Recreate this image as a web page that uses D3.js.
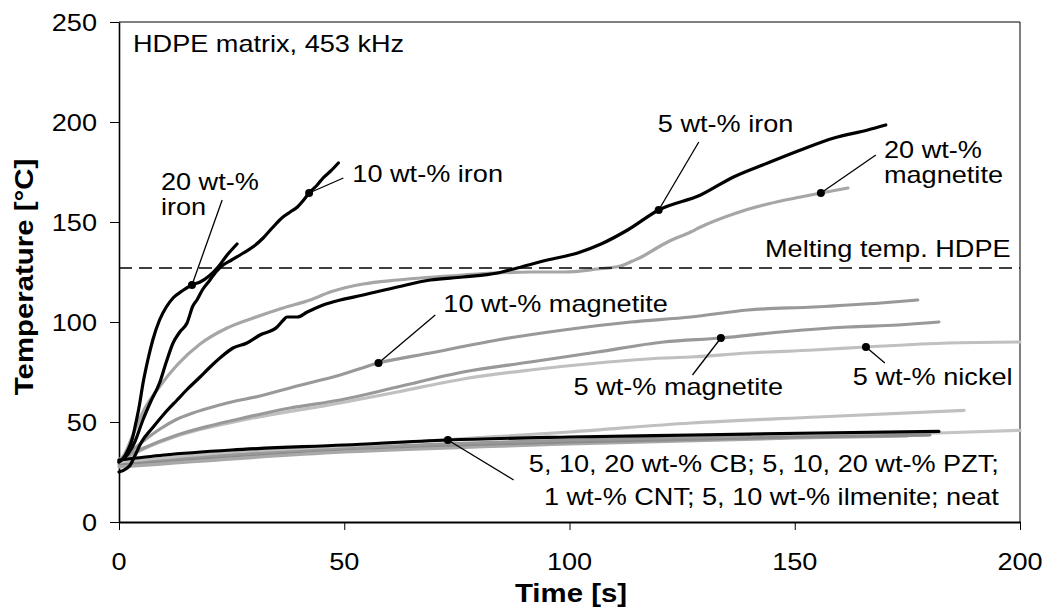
<!DOCTYPE html>
<html><head><meta charset="utf-8">
<script src="https://cdn.jsdelivr.net/npm/d3@7"></script>
<style>body{margin:0;background:#fff}svg{display:block}text{font-family:"Liberation Sans",Arial,sans-serif;fill:#000}</style>
</head><body><svg id="c" width="1045" height="611"></svg>
<script>
// ---- data (time [s], temperature [°C]) ----
const xTicks = [0, 50, 100, 150, 200];
const yTicks = [0, 50, 100, 150, 200, 250];
const meltingTemp = 127;

const iron20 = [[0,30],[1,32],[2,36],[3,42],[3.5,47],[4.5,58],[5.3,69],[6.5,82],[7.5,91],[9,101],[10.5,107.5],[12,112],[14,115.5],[16.2,118.5],[18,120],[20,123],[22,127.5],[24,133.5],[26.2,139]];
const iron10 = [[0,30],[2,34],[3.5,40],[5.3,51],[7,60],[9,69.5],[10.5,80],[12,89.5],[13.5,95],[15.1,99.5],[16.4,108],[17.3,111],[18.5,116],[20.2,121],[21.5,125],[23.1,128.5],[25,131],[27.6,134.5],[30,138],[32,142],[34,147],[36.4,152.5],[38,155],[39.6,157.5],[41,161],[42.4,165],[44,168.5],[45.3,172],[47,175.5],[48.7,179.5]];
const iron5 = [[0,25],[1.5,26.5],[2.5,28.5],[3.5,33],[5,40],[7.6,47.5],[10,54],[12.9,61],[15,66],[18,72.5],[20,77],[22.4,82],[25.3,87],[28.4,89.5],[31.3,93.5],[35.1,97.5],[36.5,101],[37.3,102.5],[39.6,102.5],[41.8,105],[45.3,108.5],[49.1,111],[54.2,113.5],[61.8,117.5],[69.1,121],[76.4,122.5],[84,124.5],[88.4,127],[95.1,131],[101.8,134.5],[107,139],[112.9,146],[119.8,156],[129.1,163.5],[136.4,172.5],[144,179.5],[151.3,186],[158.7,192],[166.2,196],[170.2,198.5]];
const magnetite20 = [[0,31],[1,33],[3,43],[5.3,55],[9.1,68],[12.9,78.5],[18,89],[24,97],[29.8,102],[36.4,107],[42.4,111],[46.9,115],[54.2,119],[61.8,121],[76.4,123.5],[91.3,125],[98.7,125],[106.2,126.5],[111.3,128],[114,130.5],[116.4,133],[119,136.5],[121.8,140],[126.9,145],[129.1,147.5],[136.4,154],[144,159],[151.3,162.5],[155.8,164.5],[161.8,167]];
const magnetite10 = [[0,31],[3,36],[6,41.5],[9.1,46.5],[12.5,51],[16.4,54.5],[20,57],[24,59.5],[31.3,63],[38.7,67.5],[49.1,73.5],[57.6,79.5],[69.1,84.5],[84,91],[98.7,96],[113.6,100],[126.9,102.5],[139.6,106],[154.2,107.5],[169.1,109.5],[177.3,111]];
const magnetite5 = [[0,31],[5,36.5],[12.9,43.5],[20,48],[27.6,52],[38,57],[49.1,61],[61.8,67.5],[76.4,75],[91.3,80],[106.2,85],[120.9,90],[133.6,92],[146.9,95],[161.8,97.5],[172.9,98.5],[182,100]];
const nickel5 = [[0,30],[5,36],[12.9,43],[27.6,51],[49.1,59.5],[61.8,65],[76.4,71.5],[91.3,76],[106.2,79.5],[120.9,82],[126.9,82.5],[139.6,84.5],[154.2,86],[165.8,87.5],[184,89.5],[200,90]];
const lowLightA = [[0,30],[25,35],[50,38],[75,41.5],[100,45],[127,49.5],[155,52.5],[187.6,55.8]];
const lowLightB = [[0,28],[50,35.5],[100,39.5],[150,43],[182,44.5],[200,45.8]];
const lowGrayC = [[0,29],[50,36.5],[100,40],[150,42.5],[180,43.5]];
const lowGrayD = [[0,27.5],[50,35],[100,39],[150,42],[175,43]];
const lowGrayE = [[0,30],[50,37],[100,41],[140,43]];
const cbBlack = [[0,31],[10,33.5],[25,36],[50,38.5],[73,41],[100,42.5],[127,43.5],[155,44.5],[182,45.3]];

const series = [
  {d: lowLightB, c: "#c4c4c4"}, {d: lowGrayD, c: "#a8a8a8"}, {d: lowGrayC, c: "#8c8c8c"},
  {d: lowGrayE, c: "#999999"}, {d: lowLightA, c: "#c0c0c0"},
  {d: nickel5, c: "#c0c0c0"}, {d: magnetite5, c: "#999999"}, {d: magnetite10, c: "#999999"},
  {d: magnetite20, c: "#a6a6a6"},
  {d: cbBlack, c: "#000"}, {d: iron5, c: "#000"}, {d: iron10, c: "#000"}, {d: iron20, c: "#000"}
];

// annotations: dot on curve (data), pointer end (data), text lines
const notes = [
  {dot:[16.2,118.5], end:[22.9,161], tx:[9.3,166], lines:["20 wt-%","iron"], anchor:"start"},
  {dot:[42.2,164.5], end:[49.8,172], tx:[51.8,170], lines:["10 wt-% iron"], anchor:"start"},
  {dot:[119.8,156], end:[128.7,190], tx:[119.6,195], lines:["5 wt-% iron"], anchor:"start"},
  {dot:[155.8,164.5], end:[168,183.5], tx:[169.8,182], lines:["20 wt-%","magnetite"], anchor:"start"},
  {dot:[57.6,79.5], end:[70.2,103.5], tx:[72,105], lines:["10 wt-% magnetite"], anchor:"start"},
  {dot:[133.6,92], end:[127.3,73.5], tx:[100.9,63.5], lines:["5 wt-% magnetite"], anchor:"start"},
  {dot:[165.8,87.5], end:[170,79.5], tx:[162.9,68.5], lines:["5 wt-% nickel"], anchor:"start"},
  {dot:[73,41], end:[87.6,21], tx:[195.3,25], lines:["5, 10, 20 wt-% CB; 5, 10, 20 wt-% PZT;","1 wt-% CNT; 5, 10 wt-% ilmenite; neat"], anchor:"end"}
];

// ---- drawing ----
const SX = 1.13;
const svg = d3.select("#c");
const x = d3.scaleLinear().domain([0,200]).range([119,1020]);
const y = d3.scaleLinear().domain([0,250]).range([522,22]);

function txt(parent, px, py, s, o = {}) {
  const g = parent.append("g").attr("transform", `translate(${px},${py})` + (o.rotate ? ` rotate(${o.rotate})` : "") + ` scale(${SX},1)`);
  g.append("text").attr("text-anchor", o.anchor || "start").attr("font-size", o.size || 24)
    .attr("font-weight", o.weight || "normal").text(s);
}

// frame
svg.append("line").attr("x1", x(0)).attr("x2", x(200)).attr("y1", y(250)).attr("y2", y(250)).attr("stroke","#000").attr("stroke-width",1);
svg.append("line").attr("x1", x(200)).attr("x2", x(200)).attr("y1", y(250)).attr("y2", y(0)).attr("stroke","#000").attr("stroke-width",1);

// axes
const ax = svg.append("g").attr("transform", `translate(0,${y(0)})`)
  .call(d3.axisBottom(x).tickValues(xTicks).tickSize(8).tickSizeOuter(0).tickFormat(""));
ax.select(".domain").attr("stroke-width", 2.2);
ax.selectAll(".tick line").attr("stroke-width", 1);
const ay = svg.append("g").attr("transform", `translate(${x(0)},0)`)
  .call(d3.axisLeft(y).tickValues(yTicks).tickSize(9).tickSizeOuter(0).tickFormat(""));
ay.select(".domain").attr("stroke-width", 1.6);
ay.selectAll(".tick line").attr("stroke-width", 1);

xTicks.forEach(t => txt(svg, x(t), 570, String(t), {anchor: "middle"}));
yTicks.forEach(t => txt(svg, 97, y(t) + 8.5, String(t), {anchor: "end"}));

txt(svg, 571, 602, "Time [s]", {anchor: "middle", weight: "bold", size: 26});
txt(svg, 33, 277, "Temperature [°C]", {anchor: "middle", weight: "bold", size: 26, rotate: -90});

// series
const line = d3.line().x(d => x(d[0])).y(d => y(d[1])).curve(d3.curveMonotoneX);
svg.append("g").selectAll("path").data(series).join("path")
  .attr("d", s => line(s.d)).attr("fill", "none").attr("stroke", s => s.c)
  .attr("stroke-width", 3.2).attr("stroke-linejoin", "round").attr("stroke-linecap", "round");

// melting line
svg.append("line").attr("x1", x(0)).attr("x2", x(200)).attr("y1", y(meltingTemp)).attr("y2", y(meltingTemp))
  .attr("stroke", "#000").attr("stroke-width", 1.6).attr("stroke-dasharray", "13,7");
txt(svg, 765, 257, "Melting temp. HDPE");
txt(svg, 133, 52, "HDPE matrix, 453 kHz");

// annotations
const an = svg.append("g");
notes.forEach(n => {
  an.append("line").attr("x1", x(n.dot[0])).attr("y1", y(n.dot[1])).attr("x2", x(n.end[0])).attr("y2", y(n.end[1]))
    .attr("stroke", "#000").attr("stroke-width", 1.3);
  an.append("circle").attr("cx", x(n.dot[0])).attr("cy", y(n.dot[1])).attr("r", 4).attr("fill", "#000");
  n.lines.forEach((s, i) => txt(an, x(n.tx[0]), y(n.tx[1]) + i * 33 * (n.lines.length > 1 && n.anchor === "end" ? 1 : 0.76), s, {anchor: n.anchor}));
});
</script></body></html>
